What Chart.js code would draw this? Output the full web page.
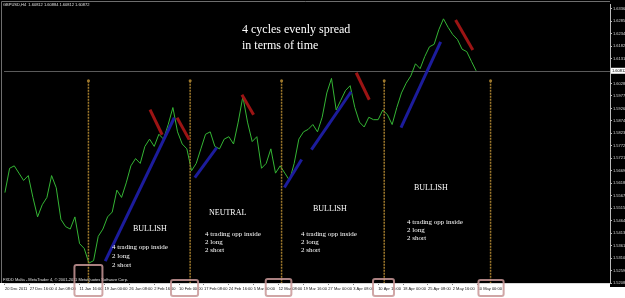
<!DOCTYPE html>
<html>
<head>
<meta charset="utf-8">
<title>GBPUSD H4</title>
<script src="https://cdn.jsdelivr.net/npm/chart.js@4.4.1/dist/chart.umd.min.js"></script>
<style>
  html, body { margin: 0; padding: 0; background: #fff; }
  #box { position: relative; width: 625px; height: 298px; }
</style>
</head>
<body>
<div id="box"><canvas id="PriceChart" width="625" height="298"></canvas></div>
<script>
// GBPUSD,H4 - one close per trading day, day 0 = 20 Dec 2011
const closes = [
  1.5580, 1.5680, 1.5690, 1.5660, 1.5630, 1.5650, 1.5560, 1.5480, 1.5530, 1.5560,
  1.5650, 1.5600, 1.5470, 1.5440, 1.5430, 1.5480, 1.5370, 1.5350, 1.5290, 1.5300,
  1.5400, 1.5430, 1.5480, 1.5500, 1.5590, 1.5560, 1.5620, 1.5690, 1.5720, 1.5700,
  1.5770, 1.5800, 1.5770, 1.5820, 1.5800, 1.5860, 1.5930, 1.5830, 1.5780, 1.5760,
  1.5670, 1.5700, 1.5760, 1.5820, 1.5830, 1.5770, 1.5760, 1.5800, 1.5810, 1.5780,
  1.5870, 1.5975, 1.5870, 1.5790, 1.5810, 1.5680, 1.5700, 1.5760, 1.5660, 1.5690,
  1.5660, 1.5630, 1.5700, 1.5800, 1.5830, 1.5840, 1.5860, 1.5830, 1.5890, 1.5990,
  1.6050, 1.5920, 1.5960, 1.6000, 1.6020, 1.5930, 1.5870, 1.5850, 1.5890, 1.5880,
  1.5880, 1.5920, 1.5900, 1.5860, 1.5930, 1.5990, 1.6030, 1.6060, 1.6110, 1.6090,
  1.6140, 1.6180, 1.6190, 1.6250, 1.6295, 1.6260, 1.6230, 1.6210, 1.6170, 1.6160,
  1.6120, 1.6081
];

const dateLabels = ['20 Dec 2011', '27 Dec 16:00', '4 Jan 08:00', '11 Jan 16:00', '19 Jan 00:00',
  '26 Jan 08:00', '2 Feb 16:00', '10 Feb 00:00', '17 Feb 08:00', '24 Feb 16:00', '5 Mar 00:00',
  '12 Mar 08:00', '19 Mar 16:00', '27 Mar 00:00', '3 Apr 08:00', '10 Apr 16:00', '18 Apr 00:00',
  '25 Apr 08:00', '2 May 16:00', '10 May 00:00'];
const dateTicks = [0, 5.33, 10.67, 16, 21.33, 26.67, 32, 37.33, 42.67, 48, 53.33,
  58.67, 64, 69.33, 74.67, 80, 85.33, 90.67, 96, 101.33];

const priceTicks = [1.52080, 1.52593, 1.53106, 1.53619, 1.54132, 1.54645, 1.55158, 1.55671,
  1.56184, 1.56697, 1.57210, 1.57723, 1.58236, 1.58749, 1.59262, 1.59775, 1.60288,
  1.60801, 1.61314, 1.61827, 1.62340, 1.62853, 1.63366];
const lastPrice = 1.60812;
const headerText = 'GBPUSD,H4  1.60812 1.60884 1.60812 1.60872';

// trend lines: [day1, price1, day2, price2]
const longLines = [
  [21.5, 1.5298, 36.3, 1.5888],
  [40.7, 1.5642, 45.4, 1.5765],
  [59.9, 1.5601, 63.6, 1.5716],
  [65.7, 1.5757, 74.2, 1.5995],
  [84.9, 1.5847, 93.4, 1.6200]
];
const shortLines = [
  [31.1, 1.5921, 33.7, 1.5818],
  [36.9, 1.5888, 39.5, 1.5798],
  [50.8, 1.5983, 53.3, 1.5900],
  [75.3, 1.6073, 78.1, 1.5962],
  [96.6, 1.6290, 100.3, 1.6167]
];
// cycle separators
const cycleDays = [17.9, 39.7, 59.3, 81.3, 104.1];
const cycleTop = 1.6040;

const notes = [
  { text: '4 cycles evenly spread', x: 242, y: 33, size: 12 },
  { text: 'in terms of time', x: 242, y: 49, size: 12 },
  { text: 'BULLISH', x: 133, y: 231, size: 8 },
  { text: '4 trading opp inside', x: 112, y: 249, size: 7 },
  { text: '2 long', x: 112, y: 258, size: 7 },
  { text: '2 short', x: 112, y: 267, size: 7 },
  { text: 'NEUTRAL', x: 209, y: 215, size: 8 },
  { text: '4 trading opp inside', x: 205, y: 236, size: 7 },
  { text: '2 long', x: 205, y: 244, size: 7 },
  { text: '2 short', x: 205, y: 252, size: 7 },
  { text: 'BULLISH', x: 313, y: 211, size: 8 },
  { text: '4 trading opp inside', x: 301, y: 236, size: 7 },
  { text: '2 long', x: 301, y: 244, size: 7 },
  { text: '2 short', x: 301, y: 252, size: 7 },
  { text: 'BULLISH', x: 414, y: 190, size: 8 },
  { text: '4 trading opp inside', x: 407, y: 224, size: 7 },
  { text: '2 long', x: 407, y: 232, size: 7 },
  { text: '2 short', x: 407, y: 240, size: 7 }
];
// highlight boxes round the date labels: [dayLeft, dayRight, top px]
const dateBoxes = [[14.9, 20.9, 265], [35.6, 41.4, 280], [55.9, 61.4, 279], [78.9, 83.4, 279], [101.5, 106.9, 280]];

const seg = (l, color) => ({
  data: [{ x: l[0], y: l[1] }, { x: l[2], y: l[3] }],
  borderColor: color, borderWidth: 3, pointRadius: 0, order: 1
});

const datasets = [];
longLines.forEach(l => datasets.push(seg(l, '#1c1c9c')));
shortLines.forEach(l => datasets.push(seg(l, '#9c1414')));
cycleDays.forEach(d => datasets.push({
  data: [{ x: d, y: cycleTop }, { x: d, y: 1.5208 }],
  borderColor: '#a07a2c', borderWidth: 1.5, borderDash: [2, 1],
  pointRadius: [1.5, 0], pointBackgroundColor: '#a07a2c', pointBorderWidth: 0, order: 2
}));
datasets.push({
  data: closes.map((c, i) => ({ x: i, y: c })),
  borderColor: '#34b534', borderWidth: 1, pointRadius: 0, order: 3
});

const mtPlugin = {
  id: 'mt',
  beforeDraw(chart) {
    const { ctx, chartArea } = chart;
    ctx.save();
    ctx.fillStyle = '#fff';
    ctx.fillRect(0, 0, chart.width, chart.height);
    ctx.fillStyle = '#000';
    ctx.fillRect(0, 0, chart.width, chartArea.bottom);
    ctx.fillRect(chartArea.right, 0, chart.width - chartArea.right, chartArea.bottom + 4);
    // frame
    ctx.strokeStyle = '#6e6e6e';
    ctx.lineWidth = 1;
    ctx.beginPath();
    ctx.moveTo(1.5, chartArea.bottom);
    ctx.lineTo(1.5, 1.5);
    ctx.lineTo(chartArea.right, 1.5);
    ctx.stroke();
    // current price line
    const py = Math.round(chart.scales.y.getPixelForValue(lastPrice)) + 0.5;
    ctx.strokeStyle = '#5a5a5a';
    ctx.beginPath();
    ctx.moveTo(chartArea.left, py);
    ctx.lineTo(chartArea.right, py);
    ctx.stroke();
    ctx.restore();
  },
  afterDraw(chart) {
    const { ctx, chartArea, scales } = chart;
    ctx.save();
    // header and copyright
    ctx.fillStyle = '#e0e0e0';
    ctx.font = '4px "Liberation Sans"';
    ctx.textBaseline = 'top';
    ctx.fillText(headerText, 3, 3);
    ctx.textBaseline = 'bottom';
    ctx.fillText('FXDD Malta - MetaTrader 4, \u00a9 2001-2011 MetaQuotes Software Corp.', 3, chartArea.bottom - 1);
    // price tag
    const py = scales.y.getPixelForValue(lastPrice);
    ctx.fillStyle = '#fff';
    ctx.fillRect(chartArea.right + 1, py - 3, 14, 6);
    ctx.fillStyle = '#000';
    ctx.textBaseline = 'middle';
    ctx.fillText(lastPrice.toFixed(5), chartArea.right + 2, py);
    // boxes round the date labels
    ctx.strokeStyle = 'rgba(200,150,150,0.85)';
    ctx.lineWidth = 2;
    dateBoxes.forEach(b => {
      const x0 = scales.x.getPixelForValue(b[0]);
      const x1 = scales.x.getPixelForValue(b[1]);
      ctx.beginPath();
      ctx.roundRect(x0, b[2], x1 - x0, 296 - b[2], 2);
      ctx.stroke();
    });
    // notes
    ctx.fillStyle = '#fff';
    ctx.textBaseline = 'alphabetic';
    notes.forEach(n => {
      ctx.font = n.size + 'px "Liberation Serif"';
      ctx.fillText(n.text, n.x, n.y);
    });
    ctx.restore();
  }
};

const chart = new Chart(document.getElementById('PriceChart'), {
  type: 'line',
  data: { datasets },
  options: {
    responsive: false,
    animation: false,
    events: [],
    layout: { padding: { left: 1, top: 3, right: 0, bottom: 0 } },
    plugins: { legend: { display: false }, tooltip: { enabled: false } },
    scales: {
      x: {
        type: 'linear', min: -0.2, max: 129.7,
        afterBuildTicks: s => { s.ticks = dateTicks.map(v => ({ value: v })); },
        afterFit: s => { s.height = 15; },
        ticks: {
          autoSkip: false, maxRotation: 0, align: 'start', padding: 1, color: '#111',
          font: { size: 4, family: 'Liberation Sans' },
          callback: (v, i) => dateLabels[i]
        },
        grid: { drawOnChartArea: false, tickLength: 2, color: '#777' },
        border: { color: '#d8d8d8' }
      },
      y: {
        position: 'right', min: 1.5208, max: 1.6356,
        afterBuildTicks: s => { s.ticks = priceTicks.map(v => ({ value: v })); },
        afterFit: s => { s.width = 15; },
        ticks: {
          autoSkip: false, padding: 1, color: '#d8d8d8',
          font: { size: 4, family: 'Liberation Sans' },
          callback: v => v.toFixed(5)
        },
        grid: { drawOnChartArea: false, tickLength: 2, color: '#bbb' },
        border: { color: '#bbb' }
      }
    }
  },
  plugins: [mtPlugin]
});
</script>
</body>
</html>
